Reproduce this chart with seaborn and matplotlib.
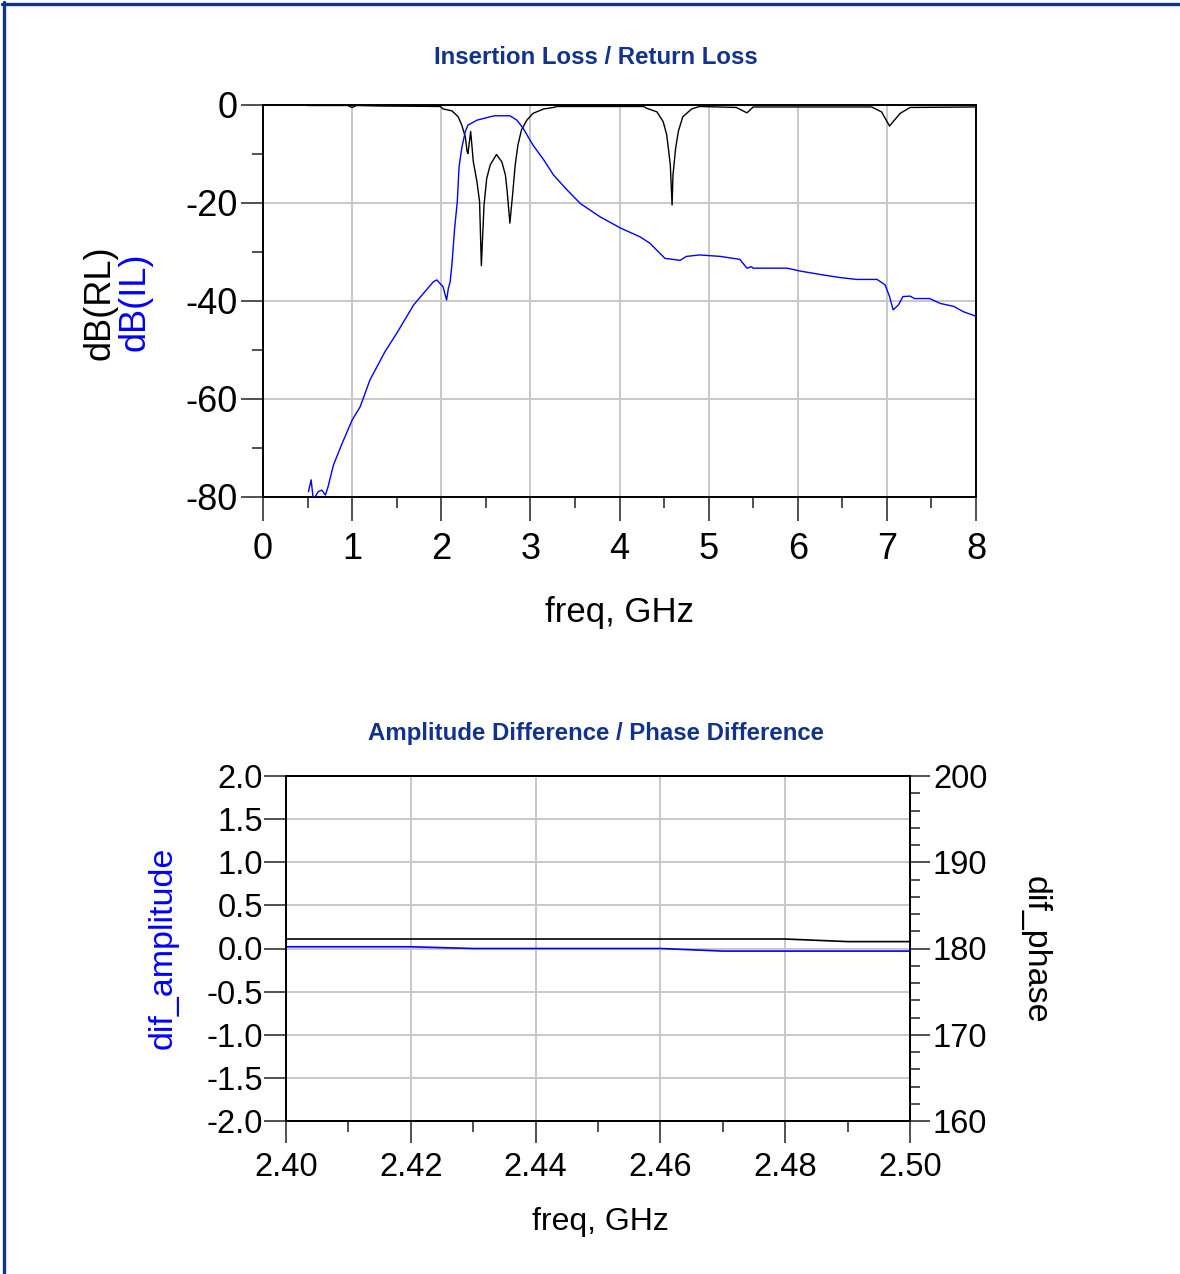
import matplotlib
matplotlib.use("Agg")
import matplotlib.pyplot as plt
from matplotlib.ticker import MultipleLocator, FormatStrFormatter
from matplotlib.lines import Line2D
import seaborn as sns
import pandas as pd

# ---------------- data ----------------
# Return loss (black), dB vs GHz
f_rl = [0.5, 0.95, 1.0, 1.05, 1.29, 1.99, 2.02, 2.12, 2.19, 2.23,
        2.27, 2.29, 2.30, 2.33, 2.36, 2.40, 2.43, 2.45, 2.48, 2.51,
        2.55, 2.62, 2.68, 2.72, 2.74, 2.77, 2.80, 2.83, 2.86, 2.90,
        2.96, 3.03, 3.15, 3.26, 3.30, 4.27, 4.31, 4.42, 4.49, 4.53,
        4.57, 4.59, 4.60, 4.63, 4.66, 4.71, 4.81, 4.90, 5.31, 5.43,
        5.50, 6.83, 6.94, 7.03, 7.07, 7.15, 7.26, 8.0]
rl = [-0.1, -0.1, -0.5, -0.1, -0.2, -0.3, -0.8, -1.2, -2.4, -4.1,
      -6.5, -9.5, -9.9, -5.4, -11.6, -15.6, -19.7, -32.8, -20.4, -15.0,
      -12.2, -10.1, -11.6, -14.3, -17.7, -24.1, -18.4, -12.2, -8.2, -5.1,
      -3.1, -1.7, -0.8, -0.5, -0.3, -0.3, -0.7, -1.4, -3.4, -6.1,
      -12.2, -20.4, -14.3, -8.8, -5.4, -2.4, -0.8, -0.3, -0.5, -1.6,
      -0.4, -0.4, -1.4, -4.3, -3.4, -1.7, -0.5, -0.4]

# Insertion loss (blue), dB vs GHz
f_il = [0.51, 0.54, 0.565, 0.62, 0.66, 0.70, 0.73, 0.79, 0.88, 1.0,
        1.09, 1.20, 1.37, 1.50, 1.69, 1.91, 1.95, 2.02, 2.06, 2.08,
        2.10, 2.12, 2.15, 2.18, 2.20, 2.23, 2.27, 2.30, 2.40, 2.55,
        2.60, 2.77, 2.85, 2.92, 3.03, 3.15, 3.26, 3.41, 3.56, 3.78,
        4.01, 4.23, 4.34, 4.51, 4.68, 4.75, 4.90, 5.13, 5.35, 5.43,
        5.48, 5.50, 5.88, 6.03, 6.29, 6.47, 6.66, 6.89, 6.98, 7.03,
        7.07, 7.13, 7.18, 7.26, 7.31, 7.48, 7.60, 7.75, 7.86, 8.0]
il = [-78.9, -76.5, -80.6, -78.9, -78.6, -79.6, -77.9, -73.5, -69.4, -64.3,
      -61.6, -56.1, -50.3, -46.6, -40.8, -36.1, -35.7, -37.1, -39.8, -37.4,
      -36.1, -32.5, -25.2, -19.7, -12.6, -8.8, -5.4, -4.1, -3.1, -2.4,
      -2.2, -2.2, -3.1, -4.8, -8.2, -11.2, -14.3, -17.3, -20.1, -22.8,
      -25.1, -26.9, -28.2, -31.3, -31.7, -30.9, -30.6, -30.9, -31.5, -33.3,
      -33.0, -33.3, -33.3, -33.9, -34.7, -35.2, -35.6, -35.6, -36.7, -39.1,
      -41.8, -40.8, -39.1, -39.0, -39.5, -39.5, -40.5, -41.1, -42.2, -43.1]

# Amplitude / phase difference vs GHz
f_dif = [2.40, 2.41, 2.42, 2.43, 2.44, 2.45, 2.46, 2.47, 2.48, 2.49, 2.50]
dif_amplitude = [0.02, 0.02, 0.02, 0.0, 0.0, 0.0, 0.0, -0.03, -0.03, -0.03, -0.03]
dif_phase = [181.1, 181.1, 181.1, 181.1, 181.1, 181.1, 181.1, 181.1, 181.1, 180.8, 180.8]

title_top = "Insertion Loss / Return Loss"
title_bot = "Amplitude Difference / Phase Difference"

# ---------------- style ----------------
sns.set_theme(style="white")
plt.rcParams['font.family'] = ['Liberation Sans', 'DejaVu Sans']
plt.rcParams['axes.unicode_minus'] = False
plt.rcParams['text.color'] = 'black'
plt.rcParams['axes.labelcolor'] = 'black'
plt.rcParams['xtick.labelcolor'] = 'black'
plt.rcParams['ytick.labelcolor'] = 'black'

NAVY = '#12338C'
GRID = '#c8c8c8'
TICK = '#333333'
W, H = 1180, 1274
PT = 0.72  # points per pixel at 100 dpi

fig = plt.figure(figsize=(W / 100, H / 100), dpi=100)
fig.patch.set_facecolor('white')


def ax_rect(l, t, r, b):
    return [l / W, 1 - b / H, (r - l) / W, (b - t) / H]


def style_axes(ax):
    for s in ax.spines.values():
        s.set_color('black')
        s.set_linewidth(1.4)
    ax.set_facecolor('white')


# ---------------- top chart ----------------
ax1 = fig.add_axes(ax_rect(263, 105, 976, 497))
style_axes(ax1)
df_rl = pd.DataFrame({'freq': f_rl, 'dB': rl})
df_il = pd.DataFrame({'freq': f_il, 'dB': il})
sns.lineplot(data=df_rl, x='freq', y='dB', ax=ax1, color='black', lw=1.0,
             sort=False, estimator=None, zorder=3)
sns.lineplot(data=df_il, x='freq', y='dB', ax=ax1, color='#0000FF', lw=1.0,
             sort=False, estimator=None, zorder=4)
ax1.set_xlim(0, 8)
ax1.set_ylim(-80, 0)
ax1.xaxis.set_major_locator(MultipleLocator(1))
ax1.xaxis.set_minor_locator(MultipleLocator(0.5))
ax1.yaxis.set_major_locator(MultipleLocator(20))
ax1.yaxis.set_minor_locator(MultipleLocator(10))
ax1.grid(True, which='major', color=GRID, lw=1.4, zorder=0)
ax1.tick_params(axis='x', which='major', direction='out', length=24 * PT, width=1.2,
                color=TICK, labelsize=26, pad=11 * PT, bottom=True)
ax1.tick_params(axis='y', which='major', direction='out', length=22 * PT, width=1.2,
                color=TICK, labelsize=26, pad=3 * PT, left=True)
ax1.tick_params(axis='both', which='minor', direction='out', length=11 * PT, width=1.2,
                color=TICK, bottom=True, left=True)
ax1.set_xlabel("freq, GHz", fontsize=25)
ax1.xaxis.label.set_va('center')
ax1.xaxis.set_label_coords(0.5, (497 - 613) / 392)
ax1.set_ylabel("")

fig.text(100 / W, 1 - 303 / H, "dB(RL)", rotation=90, ha='center', va='center',
         fontsize=26, color='black')
fig.text(135 / W, 1 - 302 / H, "dB(IL)", rotation=90, ha='center', va='center',
         fontsize=26, color='#0000FF')
fig.text(596 / W, 1 - 58 / H, title_top, ha='center', va='center',
         fontsize=17.3, fontweight='bold', color=NAVY)

# ---------------- bottom chart ----------------
ax2 = fig.add_axes(ax_rect(286, 776, 910, 1121))
style_axes(ax2)
ax3 = ax2.twinx()
style_axes(ax3)
df_dif = pd.DataFrame({'freq': f_dif, 'amp': dif_amplitude, 'phase': dif_phase})
sns.lineplot(data=df_dif, x='freq', y='amp', ax=ax2, color='#0000FF', lw=1.2,
             estimator=None, zorder=4)
sns.lineplot(data=df_dif, x='freq', y='phase', ax=ax3, color='black', lw=1.2,
             estimator=None, zorder=4)
ax2.set_xlim(2.40, 2.50)
ax2.set_ylim(-2.0, 2.0)
ax3.set_ylim(160, 200)
ax2.xaxis.set_major_locator(MultipleLocator(0.02))
ax2.xaxis.set_minor_locator(MultipleLocator(0.01))
ax2.xaxis.set_major_formatter(FormatStrFormatter('%.2f'))
ax2.yaxis.set_major_locator(MultipleLocator(0.5))
ax2.yaxis.set_major_formatter(FormatStrFormatter('%.1f'))
ax3.yaxis.set_major_locator(MultipleLocator(10))
ax3.yaxis.set_minor_locator(MultipleLocator(2))
ax2.grid(True, which='major', color=GRID, lw=1.4, zorder=0)
ax3.grid(False)
ax2.tick_params(axis='x', which='major', direction='out', length=22 * PT, width=1.2,
                color=TICK, labelsize=23.5, pad=9 * PT, bottom=True)
ax2.tick_params(axis='y', which='major', direction='out', length=22 * PT, width=1.2,
                color=TICK, labelsize=23.5, pad=1 * PT, left=True)
ax2.tick_params(axis='x', which='minor', direction='out', length=11 * PT, width=1.2,
                color=TICK, bottom=True)
ax3.tick_params(axis='y', which='major', direction='out', length=20 * PT, width=1.2,
                color=TICK, labelsize=23.5, pad=3 * PT, right=True)
ax3.tick_params(axis='y', which='minor', direction='out', length=10 * PT, width=1.2,
                color=TICK, right=True)
ax2.set_xlabel("freq, GHz", fontsize=23)
ax2.xaxis.label.set_va('center')
ax2.xaxis.set_label_coords((600 - 286) / 624, (1121 - 1222) / 345)
ax2.set_ylabel("")
ax3.set_ylabel("")
fig.text(163 / W, 1 - 948 / H, "dif_amplitude", rotation=90, ha='center', va='center',
         fontsize=24.5, color='#0000FF')
fig.text(1035 / W, 1 - 950 / H, "dif_phase", rotation=270, ha='center', va='center',
         fontsize=24.5, color='black')
fig.text(596 / W, 1 - 733 / H, title_bot, ha='center', va='center',
         fontsize=17.3, fontweight='bold', color=NAVY)

# ---------------- frame border (top and left) ----------------
fig.add_artist(Line2D([3.5 / W, 3.5 / W], [0, 1 - 2 / H], color=NAVY, lw=2.4))
fig.add_artist(Line2D([2 / W, 1], [1 - 3.5 / H, 1 - 3.5 / H], color=NAVY, lw=2.4))

fig.savefig("out.png", dpi=100, facecolor='white')
